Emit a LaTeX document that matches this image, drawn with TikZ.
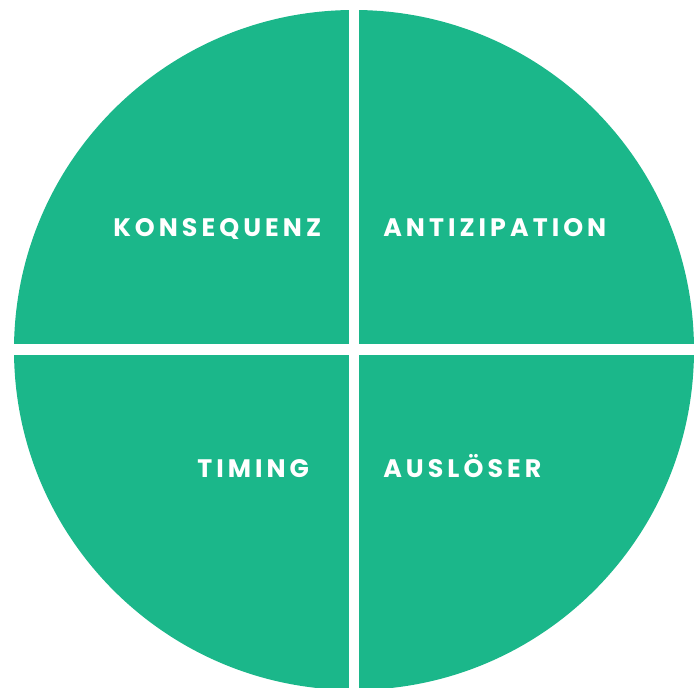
\documentclass[tikz,border=0pt]{standalone}
\usepackage{fontspec}
\newfontfamily\quadfont{Poppins}[LetterSpace=16]
\usepackage{tikz}
\definecolor{quadgreen}{RGB}{27,183,138}
\tikzset{quadlabel/.style={text=white, inner sep=0pt, font=\quadfont\bfseries\fontsize{18}{20}\selectfont}}

\begin{document}
\begin{tikzpicture}[x=0.025cm, y=0.025cm]
    \useasboundingbox (-354,-338) rectangle (346,350);

    \fill[quadgreen] (0,0) circle (340);
    \fill[white] (-5.25,-360) rectangle (5.25,360);
    \fill[white] (-360,-5.5) rectangle (360,5.5);

    \node[quadlabel, anchor=base west] (konsequenz) at (-241,113) {KONSEQUENZ};
    \node[quadlabel, anchor=base west] (antizipation) at (29,113) {ANTIZIPATION};
    \node[quadlabel, anchor=base west] (timing) at (-157,-128) {TIMING};
    \node[quadlabel, anchor=base west] (ausloeser) at (29,-128) {AUSLÖSER};
\end{tikzpicture}
\end{document}
